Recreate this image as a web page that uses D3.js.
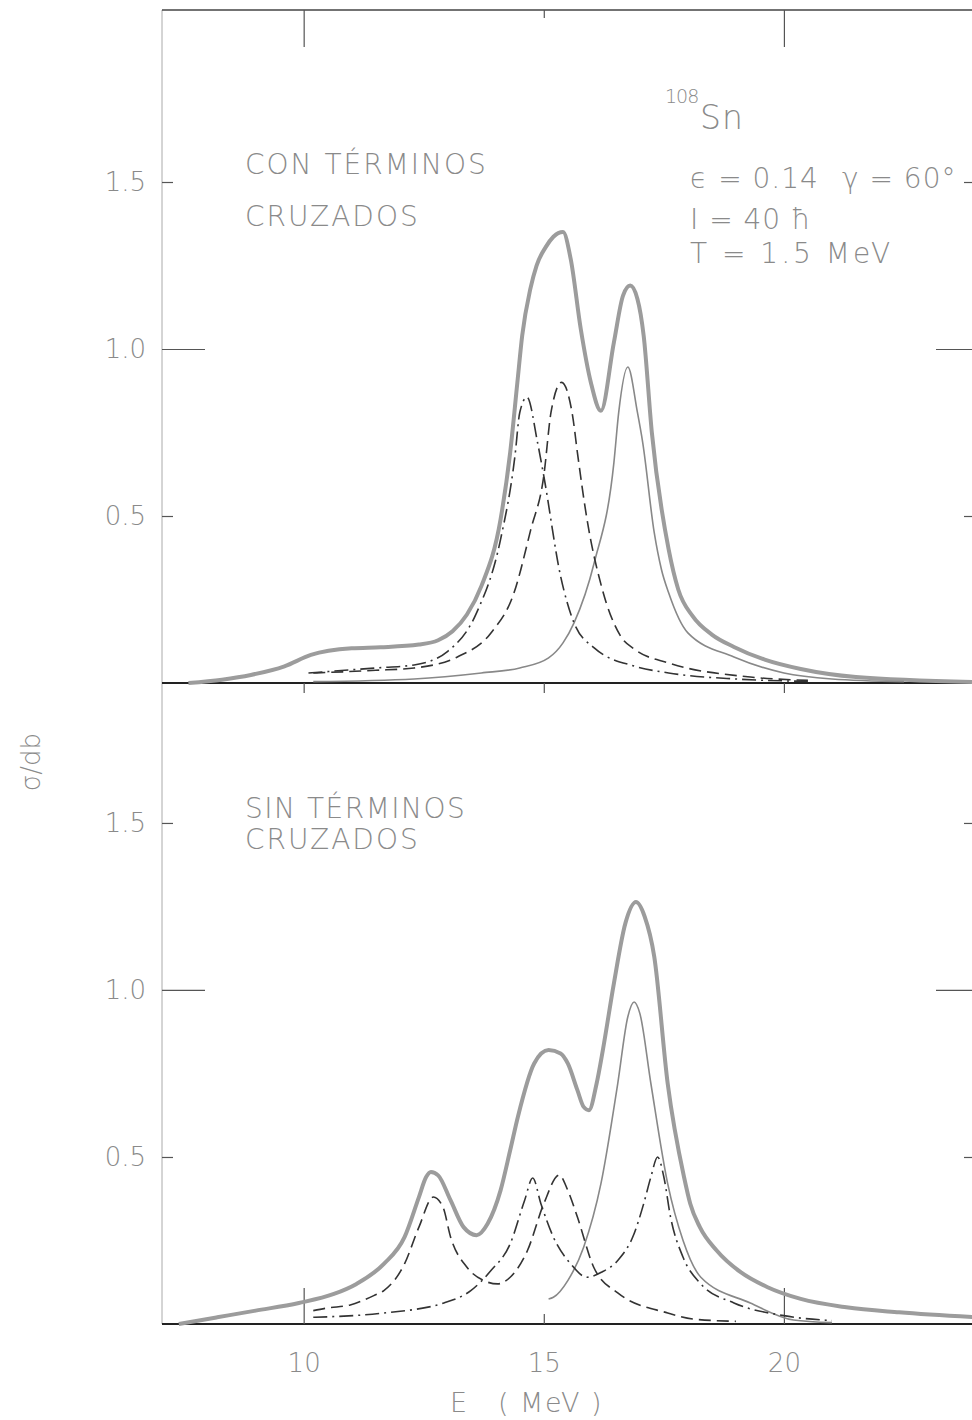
<!DOCTYPE html>
<html>
<head>
<meta charset="utf-8">
<script src="https://cdn.jsdelivr.net/npm/d3@7"></script>
<style>
  body { margin: 0; background: #fff; }
  svg { display: block; }
  text { font-family: "DejaVu Sans", sans-serif; font-weight: 200; fill: #8a8a8a; }
</style>
</head>
<body>
<div id="chart"></div>
<script>
// ---- data: [E (MeV), sigma] ----
// upper panel, "con terminos cruzados"
const topTotal = [[7.6,0],[8.3,0.01],[8.9,0.024],[9.6,0.05],[10.15,0.084],[11.0,0.104],[11.6,0.107],[12.4,0.115],
  [12.8,0.128],[13.1,0.155],[13.4,0.205],[13.7,0.29],[14.1,0.49],[14.3,0.69],[14.45,0.9],[14.55,1.04],[14.72,1.18],
  [14.85,1.25],[15.04,1.305],[15.2,1.336],[15.3,1.347],[15.4,1.35],[15.56,1.27],[15.77,1.06],[15.98,0.9],[16.19,0.815],
  [16.46,1.02],[16.65,1.16],[16.8,1.19],[16.95,1.15],[17.08,1.04],[17.25,0.75],[17.6,0.4],[17.8,0.28],[18.1,0.2],
  [18.5,0.145],[18.96,0.108],[19.6,0.07],[20.35,0.042],[21.5,0.018],[24,0.003]];
const topDashDot = [[10.1,0.03],[11.5,0.045],[12.3,0.054],[13.0,0.095],[13.6,0.21],[14.1,0.43],[14.4,0.68],[14.5,0.81],
  [14.65,0.856],[14.87,0.72],[15.0,0.62],[15.35,0.32],[15.63,0.18],[16.05,0.105],[16.9,0.05],[17.6,0.03],[19,0.012],[20.5,0.005]];
const topDashed = [[10.2,0.03],[11.5,0.038],[12.3,0.045],[13.2,0.078],[13.9,0.15],[14.38,0.27],[14.73,0.46],[15.0,0.62],
  [15.15,0.81],[15.37,0.9],[15.6,0.8],[15.7,0.69],[15.9,0.49],[16.2,0.29],[16.6,0.14],[16.9,0.1],[17.6,0.06],[19.3,0.018],[20.5,0.008]];
const topSolid = [[10.2,0.004],[12.3,0.012],[13.7,0.03],[14.5,0.045],[15.1,0.075],[15.4,0.12],[15.63,0.18],[16.05,0.36],
  [16.46,0.66],[16.56,0.81],[16.75,0.946],[16.95,0.81],[17.06,0.72],[17.3,0.45],[17.45,0.34],[17.6,0.27],[18.0,0.15],
  [18.96,0.078],[20,0.03],[21,0.012],[22.5,0.004]];

// lower panel, "sin terminos cruzados"
const botTotal = [[7.4,0],[8.2,0.02],[9.0,0.04],[9.9,0.063],[10.63,0.09],[11.1,0.12],[11.67,0.18],[12.1,0.26],[12.4,0.38],
  [12.55,0.44],[12.65,0.455],[12.8,0.445],[13.06,0.37],[13.33,0.29],[13.6,0.266],[13.83,0.3],[14.1,0.4],[14.3,0.52],
  [14.46,0.62],[14.8,0.78],[15.1,0.82],[15.35,0.81],[15.5,0.78],[15.7,0.7],[15.83,0.65],[15.94,0.64],[16.1,0.72],
  [16.23,0.82],[16.46,1.02],[16.7,1.2],[16.92,1.263],[17.1,1.22],[17.3,1.1],[17.58,0.72],[17.92,0.44],[18.05,0.36],
  [18.25,0.29],[18.6,0.22],[19.1,0.155],[19.66,0.11],[20.35,0.075],[21.3,0.05],[22.4,0.035],[24,0.02]];
const botDashed = [[10.2,0.04],[10.5,0.048],[10.97,0.057],[11.46,0.085],[11.67,0.1],[12.1,0.18],[12.4,0.29],[12.7,0.38],
  [12.9,0.35],[13.06,0.26],[13.4,0.17],[13.75,0.13],[14.04,0.12],[14.3,0.14],[14.66,0.22],[15.0,0.36],[15.32,0.446],
  [15.5,0.4],[15.7,0.32],[16.04,0.17],[16.54,0.093],[17.58,0.033],[18.1,0.015],[19,0.008]];
const botDashDot = [[10.2,0.02],[11.67,0.033],[12.92,0.063],[13.48,0.1],[13.9,0.16],[14.3,0.24],[14.6,0.37],[14.77,0.437],
  [14.94,0.36],[15.2,0.26],[15.56,0.18],[15.9,0.14],[16.2,0.155],[16.54,0.19],[16.88,0.27],[17.08,0.36],[17.23,0.44],
  [17.37,0.5],[17.5,0.44],[17.64,0.32],[17.9,0.2],[18.27,0.12],[18.96,0.063],[20,0.025],[21,0.01]];
const botSolid = [[15.1,0.075],[15.2,0.08],[15.5,0.13],[15.83,0.23],[16.19,0.42],[16.54,0.72],[16.75,0.92],[16.88,0.964],
  [17.0,0.93],[17.23,0.72],[17.58,0.42],[17.9,0.25],[18.27,0.14],[19.3,0.063],[20.2,0.012],[21,0.004]];

// ticks
const xMajor = [10, 20];
const xMinor = [15];
const xLabels = [10, 15, 20];
const yMajor = [1.0];
const yMinor = [0.5, 1.5];

const width = 972, height = 1420;

const svg = d3.select("#chart")
    .append("svg")
    .attr("width", width)
    .attr("height", height);

const x = d3.scaleLinear().domain([7.05, 24]).range([162, 976]);
const yTop = d3.scaleLinear().domain([0, 2.015]).range([683, 10]);
const yBot = d3.scaleLinear().domain([0, 1.922]).range([1324, 682]);

const panels = [
    { y: yTop, total: topTotal, solid: topSolid, dashed: topDashed, dashDot: topDashDot },
    { y: yBot, total: botTotal, solid: botSolid, dashed: botDashed, dashDot: botDashDot }
];

// frame lines
svg.append("line") // left axis, faint
    .attr("x1", 162).attr("x2", 162).attr("y1", 10).attr("y2", 1324)
    .attr("stroke", "#aaa").attr("stroke-width", 1);
svg.append("line") // top border
    .attr("x1", 162).attr("x2", 972).attr("y1", 10).attr("y2", 10)
    .attr("stroke", "#444").attr("stroke-width", 1.6);

// tick helper: draws an axis with given values/size, no domain path
function tickAxis(axis, transform) {
    const g = svg.append("g").attr("transform", transform).call(axis);
    g.select(".domain").remove();
    g.selectAll(".tick line").attr("stroke", "#555").attr("stroke-width", 1.2);
    g.selectAll("text").attr("font-size", 26).attr("fill", "#8a8a8a")
        .attr("font-family", "\"DejaVu Sans\", sans-serif").attr("font-weight", 200);
    return g;
}

const fmt = d3.format(".1f");

panels.forEach(p => {
    // left ticks with labels, pointing into the plot
    tickAxis(d3.axisLeft(p.y).tickValues(yMajor).tickSize(-43).tickPadding(16).tickFormat(fmt), "translate(162,0)");
    tickAxis(d3.axisLeft(p.y).tickValues(yMinor).tickSize(-11).tickPadding(16).tickFormat(fmt), "translate(162,0)");
    // right ticks, no labels
    tickAxis(d3.axisRight(p.y).tickValues(yMajor).tickSize(-40).tickFormat(""), "translate(976,0)");
    tickAxis(d3.axisRight(p.y).tickValues(yMinor).tickSize(-12).tickFormat(""), "translate(976,0)");

    // baseline
    svg.append("line")
        .attr("x1", 162).attr("x2", 976)
        .attr("y1", p.y(0)).attr("y2", p.y(0))
        .attr("stroke", "#222").attr("stroke-width", 2);
});

// x ticks: top border (down), middle line (down), bottom (up, labelled)
tickAxis(d3.axisBottom(x).tickValues(xMajor).tickSize(37).tickFormat(""), "translate(0,10)");
tickAxis(d3.axisBottom(x).tickValues(xMinor).tickSize(8).tickFormat(""), "translate(0,10)");
tickAxis(d3.axisBottom(x).tickValues(xLabels).tickSize(10).tickFormat(""), "translate(0,683)");
tickAxis(d3.axisBottom(x).tickValues(xMajor).tickSize(-36).tickFormat(""), "translate(0,1324)");
tickAxis(d3.axisBottom(x).tickValues(xMinor).tickSize(-10).tickFormat(""), "translate(0,1324)");
tickAxis(d3.axisBottom(x).tickValues(xLabels).tickSize(0).tickPadding(30).tickFormat(d3.format("d")), "translate(0,1324)");

// curves
const line = y => d3.line()
    .x(d => x(d[0]))
    .y(d => y(d[1]))
    .curve(d3.curveMonotoneX);

panels.forEach(p => {
    const g = svg.append("g");
    g.append("path").datum(p.total).attr("d", line(p.y))
        .attr("fill", "none").attr("stroke", "#9c9c9c").attr("stroke-width", 4);
    g.append("path").datum(p.solid).attr("d", line(p.y))
        .attr("fill", "none").attr("stroke", "#888").attr("stroke-width", 1.6);
    g.append("path").datum(p.dashed).attr("d", line(p.y))
        .attr("fill", "none").attr("stroke", "#333").attr("stroke-width", 1.6)
        .attr("stroke-dasharray", "12,6");
    g.append("path").datum(p.dashDot).attr("d", line(p.y))
        .attr("fill", "none").attr("stroke", "#333").attr("stroke-width", 1.6)
        .attr("stroke-dasharray", "14,5,2,5");
});

// annotations
function label(txt, px, py, size, spacing) {
    return svg.append("text")
        .attr("x", px).attr("y", py)
        .attr("font-size", size)
        .attr("letter-spacing", spacing || 0)
        .text(txt);
}

label("CON TÉRMINOS", 245, 174, 28, 2);
label("CRUZADOS", 245, 226, 28, 2);
label("SIN TÉRMINOS", 245, 818, 28, 1.5);
label("CRUZADOS", 245, 849, 28, 2);

label("108", 665, 103, 19, -1);
label("Sn", 700, 129, 33, 1);
label("ϵ = 0.14", 690, 188, 28, 1);
label("γ = 60°", 842, 188, 28, 1);
label("I = 40 ħ", 690, 229, 28, 1);
label("T = 1.5 MeV", 690, 263, 28, 3);

// axis titles
label("E", 450, 1412, 27);
label("( MeV )", 498, 1412, 27, 1.5);
svg.append("text")
    .attr("transform", "translate(40,762) rotate(-90)")
    .attr("font-size", 26)
    .attr("text-anchor", "middle")
    .text("σ/db");
</script>
</body>
</html>
